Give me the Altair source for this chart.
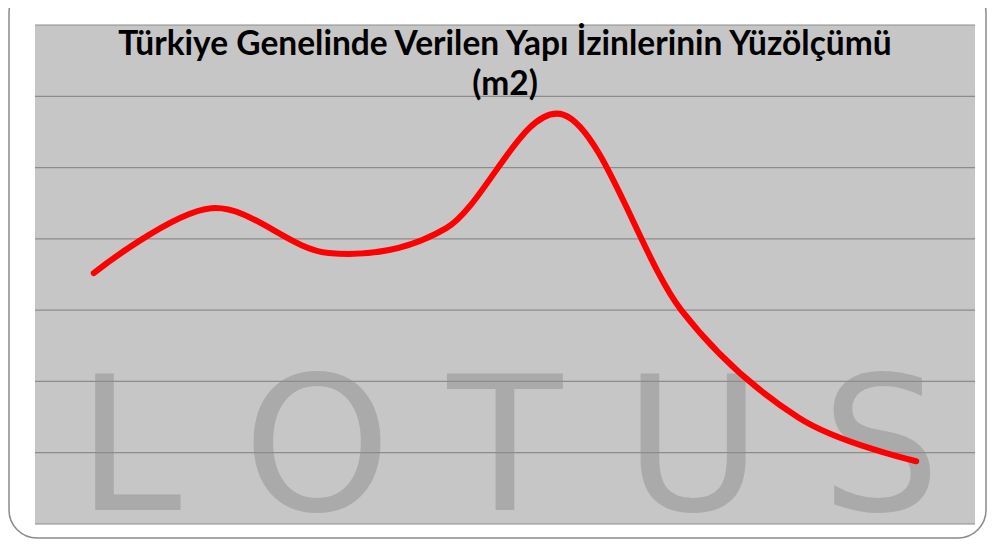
import altair as alt
import pandas as pd

# Data (gridline units, axis labels are hidden)
years = ["2013", "2014", "2015", "2016", "2017", "2018", "2019", "2020"]
area = [3.52, 4.43, 3.80, 4.15, 5.74, 3.00, 1.49, 0.88]
grid_values = [0, 1, 2, 3, 4, 5, 6, 7]
watermark_letters = ["L", "O", "T", "U", "S"]

df = pd.DataFrame({"year": years, "area": area})
grid = pd.DataFrame({"g": grid_values})
wm = pd.DataFrame({"letter": watermark_letters})

W, H = 940, 499
yscale = alt.Scale(domain=[0, 7], nice=False, zero=True)

frame = alt.Chart(pd.DataFrame({"a": [0]})).mark_rect(
    fill=None, stroke="#8a8a8a", strokeWidth=1.5, cornerRadius=28
).encode(
    x=alt.value(-26), x2=alt.value(W + 11),
    y=alt.value(-40), y2=alt.value(H + 14),
)

watermark = alt.Chart(wm).mark_text(
    font="DejaVu Sans", fontSize=188, fontWeight="normal", color="#aaaaaa",
    baseline="alphabetic"
).encode(
    x=alt.X("letter:N", sort=watermark_letters, axis=None,
            scale=alt.Scale(paddingInner=0, paddingOuter=0)),
    y=alt.value(485),
    text="letter:N",
)

gridlines = alt.Chart(grid).mark_rule(color="#8c8c8c", strokeWidth=1.2).encode(
    y=alt.Y("g:Q", scale=yscale, axis=None),
)

line = alt.Chart(df).mark_line(
    color="#ff0000", strokeWidth=6, interpolate="cardinal", strokeCap="round"
).encode(
    x=alt.X("year:N", sort=years, axis=None,
            scale=alt.Scale(paddingInner=0, paddingOuter=0.5)),
    y=alt.Y("area:Q", scale=yscale, axis=None),
)

chart = alt.layer(frame, watermark, gridlines, line).resolve_scale(x="independent").properties(
    width=W, height=H,
    background="white",
    autosize=alt.AutoSizeParams(type="none"),
    padding={"left": 27, "top": 17, "right": 12, "bottom": 16},
    title=alt.TitleParams(
        text=["Türkiye Genelinde Verilen Yapı İzinlerinin Yüzölçümü", "(m2)"],
        font="Lato", fontSize=33.5, fontWeight="bold", color="#000000",
        anchor="middle", offset=-118, lineHeight=40,
    ),
).configure_view(fill="#c6c6c6", strokeWidth=0)

chart.save("out.html", embed_options={"renderer": "svg", "actions": False})
